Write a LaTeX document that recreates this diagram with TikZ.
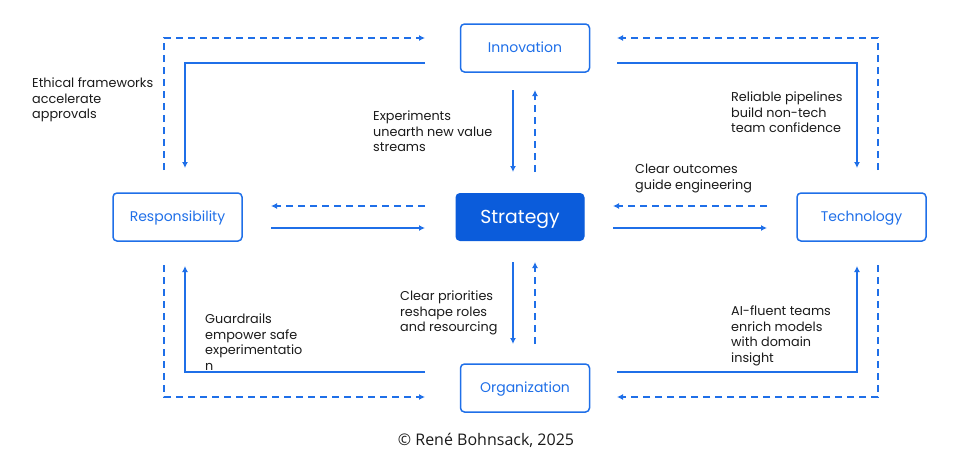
\documentclass[tikz,border=0pt]{standalone}
\usepackage{fontspec}
\setmainfont{Poppins}
\newfontfamily\copyfont{Open Sans}
\usetikzlibrary{arrows.meta}
\definecolor{lineblue}{HTML}{1F6FE8}
\definecolor{fillblue}{HTML}{0B5CDB}
\definecolor{txt}{HTML}{1A1A1A}
\begin{document}
\begin{tikzpicture}[x=1pt,y=-1pt,
  box/.style={draw=lineblue,line width=1.5pt,rounded corners=4pt,minimum width=129pt,minimum height=48pt,inner sep=0pt,text height=11pt,text depth=1.2pt,text=lineblue,font=\fontsize{14}{17}\selectfont},
  core/.style={fill=fillblue,draw=fillblue,line width=1pt,rounded corners=4pt,minimum width=128pt,minimum height=47pt,inner sep=0pt,text height=14pt,text depth=0.8pt,text=white,font=\fontsize{18.8}{22}\selectfont},
  conn/.style={draw=lineblue,line width=1.4pt,-{Latex[length=6pt,width=6pt]}},
  dconn/.style={conn,dash pattern=on 7pt off 5pt},
  lbl/.style={anchor=base west,align=left,inner sep=0pt,text=txt,font=\fontsize{12.8}{15.5}\selectfont}]
\useasboundingbox (0,0) rectangle (954,474);
% nodes
\node[box] (inn) at (525,48) {Innovation};
\node[core] (str) at (520,217) {Strategy};
\node[box] (res) at (177.5,217) {Responsibility};
\node[box] (tec) at (861.5,217) {Technology};
\node[box] (org) at (525,388) {Organization};
% coordinates
\coordinate (tlds) at (164,170);
\coordinate (tlde) at (425,38);
\coordinate (tlss) at (425,63);
\coordinate (tlse) at (185,168);
\coordinate (trds) at (878,170);
\coordinate (trde) at (617,38);
\coordinate (trss) at (617,63);
\coordinate (trse) at (857,168);
\coordinate (isS) at (513,90);
\coordinate (isE) at (513,172);
\coordinate (siS) at (535,172);
\coordinate (siE) at (535,90);
\coordinate (srS) at (425,206);
\coordinate (srE) at (271,206);
\coordinate (rsS) at (271,228);
\coordinate (rsE) at (425,228);
\coordinate (tsS) at (767,206);
\coordinate (tsE) at (613,206);
\coordinate (stS) at (613,228);
\coordinate (stE) at (767,228);
\coordinate (soS) at (513,262);
\coordinate (soE) at (513,344);
\coordinate (osS) at (535,344);
\coordinate (osE) at (535,262);
\coordinate (blds) at (164,265);
\coordinate (blde) at (425,397);
\coordinate (blss) at (425,372);
\coordinate (blse) at (185,266);
\coordinate (brss) at (617,372);
\coordinate (brse) at (857,266);
\coordinate (brds) at (878,265);
\coordinate (brde) at (617,397);
% connectors
\draw[dconn] (tlds) |- (tlde);
\draw[conn] (tlss) -| (tlse);
\draw[dconn] (trds) |- (trde);
\draw[conn] (trss) -| (trse);
\draw[conn] (isS) -- (isE);
\draw[dconn] (siS) -- (siE);
\draw[dconn] (srS) -- (srE);
\draw[conn] (rsS) -- (rsE);
\draw[dconn] (tsS) -- (tsE);
\draw[conn] (stS) -- (stE);
\draw[conn] (soS) -- (soE);
\draw[dconn] (osS) -- (osE);
\draw[dconn] (blds) |- (blde);
\draw[conn] (blss) -| (blse);
\draw[conn] (brss) -| (brse);
\draw[dconn] (brds) |- (brde);
% labels (anchored at the baseline of the last line)
\node[lbl] (l1) at (32,118.5) {Ethical frameworks\\accelerate\\approvals};
\node[lbl] (l2) at (373,151.5) {Experiments\\unearth new value\\streams};
\node[lbl] (l3) at (731,132.5) {Reliable pipelines\\build non-tech\\team confidence};
\node[lbl] (l4) at (635,189) {Clear outcomes\\guide engineering};
\node[lbl] (l5) at (400,331.5) {Clear priorities\\reshape roles\\and resourcing};
\node[lbl] (l6) at (205,370) {Guardrails\\empower safe\\experimentatio\\n};
\node[lbl] (l7) at (731,362) {AI-fluent teams\\enrich models\\with domain\\insight};
\node[anchor=center,inner sep=0pt,text=txt,font=\copyfont\fontsize{16}{19}\selectfont] (cp) at (486,440) {© René Bohnsack, 2025};
\end{tikzpicture}
\end{document}
